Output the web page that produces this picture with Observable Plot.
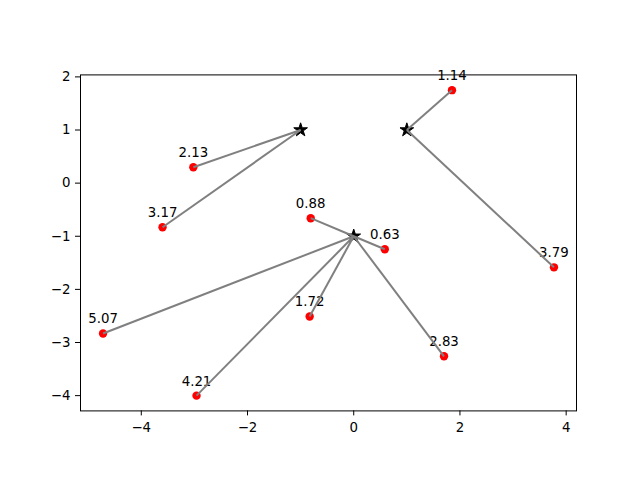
<!DOCTYPE html>
<html>
<head>
<meta charset="utf-8">
<script src="https://cdn.jsdelivr.net/npm/d3@7"></script>
<script src="https://cdn.jsdelivr.net/npm/@observablehq/plot@0.6"></script>
<style>
  html, body { margin: 0; padding: 0; background: #fff; }
  svg { display: block; }
</style>
</head>
<body>
<div id="chart"></div>
<script>
const centerX = [-1, 1, 0];
const centerY = [1, 1, -1];
const pointX = [1.85, -3.02, -3.60, -0.81, 0.585, 3.77, -4.72, -0.83, 1.70, -2.96];
const pointY = [1.75, 0.30, -0.83, -0.66, -1.245, -1.585, -2.83, -2.51, -3.26, -4.00];
const pointCenter = [1, 0, 0, 2, 2, 1, 2, 2, 2, 2];
const distLabels = ["1.14", "2.13", "3.17", "0.88", "0.63", "3.79", "5.07", "1.72", "2.83", "4.21"];
const xTicks = [-4, -2, 0, 2, 4];
const yTicks = [2, 1, 0, -1, -2, -3, -4];

const centers = centerX.map((x, i) => ({x, y: centerY[i]}));
const points = pointX.map((x, i) => ({
  x, y: pointY[i],
  cx: centerX[pointCenter[i]], cy: centerY[pointCenter[i]],
  label: distLabels[i]
}));

const fmt = d => (d < 0 ? "\u2212" + Math.abs(d) : String(d));

const chart = Plot.plot({
  width: 640,
  height: 480,
  marginLeft: 80,
  marginRight: 64,
  marginTop: 74.4,
  marginBottom: 69.6,
  style: {fontFamily: "DejaVu Sans", fontSize: "13.33px", color: "black", background: "white"},
  x: {domain: [-5.1445, 4.1945], ticks: xTicks, tickFormat: fmt, tickSize: 5, tickPadding: 7, label: null},
  y: {domain: [-4.2875, 2.0375], ticks: yTicks, tickFormat: fmt, tickSize: 5, tickPadding: 5, label: null},
  marks: [
    Plot.frame({stroke: "black", strokeWidth: 1}),
    Plot.dot(points, {x: "x", y: "y", r: 4.2, fill: "red", stroke: "none"}),
    Plot.dot(centers, {x: "x", y: "y", symbol: "star", r: 4.3, fill: "black", stroke: "black", strokeWidth: 1}),
    Plot.text(points, {x: "x", y: "y", text: "label", dy: -10, lineAnchor: "bottom", textAnchor: "middle", fontSize: 13.33, fill: "black"}),
    Plot.link(points, {x1: "x", y1: "y", x2: "cx", y2: "cy", stroke: "gray", strokeWidth: 2})
  ]
});
document.getElementById("chart").appendChild(chart);
</script>
</body>
</html>
